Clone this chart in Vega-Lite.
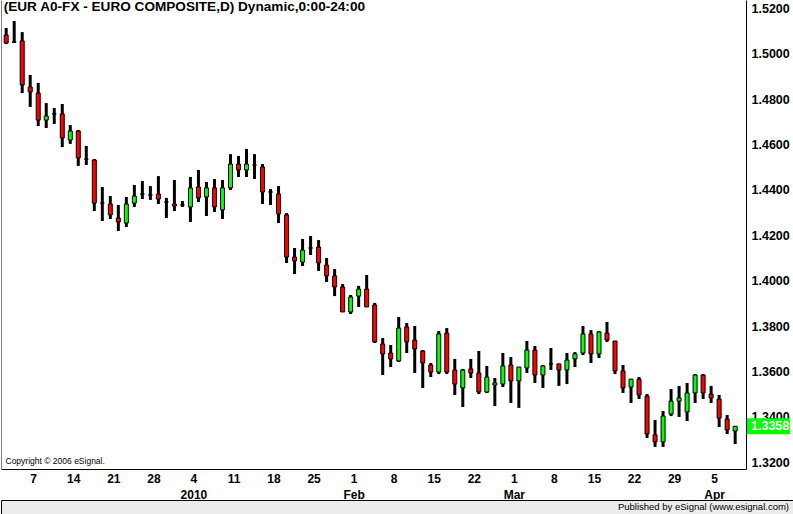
{
  "$schema": "https://vega.github.io/schema/vega-lite/v6.json",
  "padding": 0,
  "autosize": {"type": "pad"},
  "background": "white",
  "bounds": "flush",
  "spacing": 31,
  "config": {
    "font": "Liberation Sans",
    "view": {"stroke": null},
    "axis": {"grid": false, "domainColor": "#000000", "labelColor": "#000000", "ticks": false, "tickSize": 0}
  },
  "vconcat": [
    {
      "width": 745,
      "height": 469,
      "data": {
        "values": [
          {"date": "2009-12-02", "open": 1.5083, "high": 1.5114, "low": 1.5043, "close": 1.5048},
          {"date": "2009-12-03", "open": 1.5052, "high": 1.5145, "low": 1.5048, "close": 1.5052},
          {"date": "2009-12-04", "open": 1.5057, "high": 1.5096, "low": 1.4827, "close": 1.4863},
          {"date": "2009-12-07", "open": 1.4854, "high": 1.4907, "low": 1.4766, "close": 1.4832},
          {"date": "2009-12-08", "open": 1.4827, "high": 1.4872, "low": 1.4682, "close": 1.4708},
          {"date": "2009-12-09", "open": 1.4708, "high": 1.4783, "low": 1.4673, "close": 1.4726},
          {"date": "2009-12-10", "open": 1.4735, "high": 1.4761, "low": 1.4691, "close": 1.4735},
          {"date": "2009-12-11", "open": 1.4735, "high": 1.4779, "low": 1.4589, "close": 1.4629},
          {"date": "2009-12-14", "open": 1.4620, "high": 1.4686, "low": 1.4603, "close": 1.4660},
          {"date": "2009-12-15", "open": 1.4660, "high": 1.4664, "low": 1.4506, "close": 1.4541},
          {"date": "2009-12-16", "open": 1.4536, "high": 1.4594, "low": 1.4510, "close": 1.4536},
          {"date": "2009-12-17", "open": 1.4532, "high": 1.4536, "low": 1.4307, "close": 1.4342},
          {"date": "2009-12-18", "open": 1.4342, "high": 1.4413, "low": 1.4263, "close": 1.4342},
          {"date": "2009-12-21", "open": 1.4338, "high": 1.4373, "low": 1.4272, "close": 1.4290},
          {"date": "2009-12-22", "open": 1.4276, "high": 1.4334, "low": 1.4219, "close": 1.4259},
          {"date": "2009-12-23", "open": 1.4254, "high": 1.4369, "low": 1.4237, "close": 1.4338},
          {"date": "2009-12-24", "open": 1.4342, "high": 1.4422, "low": 1.4325, "close": 1.4373},
          {"date": "2009-12-25", "open": 1.4382, "high": 1.4439, "low": 1.4360, "close": 1.4382},
          {"date": "2009-12-28", "open": 1.4378, "high": 1.4417, "low": 1.4356, "close": 1.4378},
          {"date": "2009-12-29", "open": 1.4382, "high": 1.4461, "low": 1.4338, "close": 1.4360},
          {"date": "2009-12-30", "open": 1.4347, "high": 1.4365, "low": 1.4276, "close": 1.4347},
          {"date": "2009-12-31", "open": 1.4338, "high": 1.4444, "low": 1.4307, "close": 1.4329},
          {"date": "2010-01-01", "open": 1.4334, "high": 1.4351, "low": 1.4325, "close": 1.4334},
          {"date": "2010-01-04", "open": 1.4325, "high": 1.4457, "low": 1.4259, "close": 1.4409},
          {"date": "2010-01-05", "open": 1.4413, "high": 1.4488, "low": 1.4347, "close": 1.4365},
          {"date": "2010-01-06", "open": 1.4369, "high": 1.4435, "low": 1.4285, "close": 1.4409},
          {"date": "2010-01-07", "open": 1.4409, "high": 1.4448, "low": 1.4303, "close": 1.4325},
          {"date": "2010-01-08", "open": 1.4312, "high": 1.4444, "low": 1.4272, "close": 1.4409},
          {"date": "2010-01-11", "open": 1.4409, "high": 1.4558, "low": 1.4400, "close": 1.4514},
          {"date": "2010-01-12", "open": 1.4514, "high": 1.4550, "low": 1.4457, "close": 1.4488},
          {"date": "2010-01-13", "open": 1.4488, "high": 1.4581, "low": 1.4457, "close": 1.4514},
          {"date": "2010-01-14", "open": 1.4510, "high": 1.4558, "low": 1.4448, "close": 1.4510},
          {"date": "2010-01-15", "open": 1.4501, "high": 1.4514, "low": 1.4338, "close": 1.4391},
          {"date": "2010-01-18", "open": 1.4391, "high": 1.4404, "low": 1.4334, "close": 1.4391},
          {"date": "2010-01-19", "open": 1.4382, "high": 1.4417, "low": 1.4254, "close": 1.4294},
          {"date": "2010-01-20", "open": 1.4290, "high": 1.4298, "low": 1.4078, "close": 1.4104},
          {"date": "2010-01-21", "open": 1.4104, "high": 1.4144, "low": 1.4029, "close": 1.4087},
          {"date": "2010-01-22", "open": 1.4082, "high": 1.4184, "low": 1.4065, "close": 1.4135},
          {"date": "2010-01-25", "open": 1.4144, "high": 1.4197, "low": 1.4113, "close": 1.4144},
          {"date": "2010-01-26", "open": 1.4148, "high": 1.4179, "low": 1.4043, "close": 1.4078},
          {"date": "2010-01-27", "open": 1.4069, "high": 1.4100, "low": 1.3994, "close": 1.4021},
          {"date": "2010-01-28", "open": 1.4021, "high": 1.4051, "low": 1.3932, "close": 1.3972},
          {"date": "2010-01-29", "open": 1.3972, "high": 1.3985, "low": 1.3862, "close": 1.3862},
          {"date": "2010-02-01", "open": 1.3862, "high": 1.3937, "low": 1.3853, "close": 1.3928},
          {"date": "2010-02-02", "open": 1.3932, "high": 1.3977, "low": 1.3884, "close": 1.3963},
          {"date": "2010-02-03", "open": 1.3963, "high": 1.4025, "low": 1.3884, "close": 1.3884},
          {"date": "2010-02-04", "open": 1.3893, "high": 1.3902, "low": 1.3725, "close": 1.3730},
          {"date": "2010-02-05", "open": 1.3721, "high": 1.3747, "low": 1.3584, "close": 1.3677},
          {"date": "2010-02-08", "open": 1.3681, "high": 1.3716, "low": 1.3619, "close": 1.3655},
          {"date": "2010-02-09", "open": 1.3646, "high": 1.3840, "low": 1.3641, "close": 1.3791},
          {"date": "2010-02-10", "open": 1.3796, "high": 1.3813, "low": 1.3681, "close": 1.3730},
          {"date": "2010-02-11", "open": 1.3738, "high": 1.3800, "low": 1.3593, "close": 1.3699},
          {"date": "2010-02-12", "open": 1.3690, "high": 1.3694, "low": 1.3527, "close": 1.3637},
          {"date": "2010-02-15", "open": 1.3628, "high": 1.3637, "low": 1.3575, "close": 1.3597},
          {"date": "2010-02-16", "open": 1.3597, "high": 1.3778, "low": 1.3588, "close": 1.3765},
          {"date": "2010-02-17", "open": 1.3769, "high": 1.3791, "low": 1.3588, "close": 1.3597},
          {"date": "2010-02-18", "open": 1.3606, "high": 1.3655, "low": 1.3496, "close": 1.3544},
          {"date": "2010-02-19", "open": 1.3527, "high": 1.3611, "low": 1.3443, "close": 1.3606},
          {"date": "2010-02-22", "open": 1.3611, "high": 1.3655, "low": 1.3571, "close": 1.3593},
          {"date": "2010-02-23", "open": 1.3593, "high": 1.3690, "low": 1.3500, "close": 1.3509},
          {"date": "2010-02-24", "open": 1.3509, "high": 1.3624, "low": 1.3505, "close": 1.3575},
          {"date": "2010-02-25", "open": 1.3540, "high": 1.3571, "low": 1.3447, "close": 1.3549},
          {"date": "2010-02-26", "open": 1.3544, "high": 1.3681, "low": 1.3531, "close": 1.3624},
          {"date": "2010-03-01", "open": 1.3628, "high": 1.3663, "low": 1.3461, "close": 1.3558},
          {"date": "2010-03-02", "open": 1.3558, "high": 1.3619, "low": 1.3439, "close": 1.3619},
          {"date": "2010-03-03", "open": 1.3615, "high": 1.3734, "low": 1.3593, "close": 1.3694},
          {"date": "2010-03-04", "open": 1.3694, "high": 1.3712, "low": 1.3549, "close": 1.3584},
          {"date": "2010-03-05", "open": 1.3584, "high": 1.3628, "low": 1.3527, "close": 1.3624},
          {"date": "2010-03-08", "open": 1.3633, "high": 1.3703, "low": 1.3606, "close": 1.3633},
          {"date": "2010-03-09", "open": 1.3633, "high": 1.3633, "low": 1.3536, "close": 1.3606},
          {"date": "2010-03-10", "open": 1.3606, "high": 1.3681, "low": 1.3544, "close": 1.3650},
          {"date": "2010-03-11", "open": 1.3655, "high": 1.3685, "low": 1.3619, "close": 1.3677},
          {"date": "2010-03-12", "open": 1.3681, "high": 1.3800, "low": 1.3672, "close": 1.3765},
          {"date": "2010-03-15", "open": 1.3765, "high": 1.3782, "low": 1.3637, "close": 1.3677},
          {"date": "2010-03-16", "open": 1.3677, "high": 1.3778, "low": 1.3659, "close": 1.3774},
          {"date": "2010-03-17", "open": 1.3769, "high": 1.3818, "low": 1.3730, "close": 1.3738},
          {"date": "2010-03-18", "open": 1.3734, "high": 1.3734, "low": 1.3588, "close": 1.3602},
          {"date": "2010-03-19", "open": 1.3602, "high": 1.3628, "low": 1.3505, "close": 1.3527},
          {"date": "2010-03-22", "open": 1.3531, "high": 1.3566, "low": 1.3461, "close": 1.3566},
          {"date": "2010-03-23", "open": 1.3566, "high": 1.3575, "low": 1.3478, "close": 1.3496},
          {"date": "2010-03-24", "open": 1.3491, "high": 1.3500, "low": 1.3306, "close": 1.3324},
          {"date": "2010-03-25", "open": 1.3320, "high": 1.3386, "low": 1.3267, "close": 1.3289},
          {"date": "2010-03-26", "open": 1.3289, "high": 1.3425, "low": 1.3267, "close": 1.3403},
          {"date": "2010-03-29", "open": 1.3412, "high": 1.3522, "low": 1.3403, "close": 1.3469},
          {"date": "2010-03-30", "open": 1.3469, "high": 1.3536, "low": 1.3399, "close": 1.3483},
          {"date": "2010-03-31", "open": 1.3421, "high": 1.3549, "low": 1.3381, "close": 1.3505},
          {"date": "2010-04-01", "open": 1.3505, "high": 1.3588, "low": 1.3461, "close": 1.3584},
          {"date": "2010-04-02", "open": 1.3584, "high": 1.3588, "low": 1.3478, "close": 1.3505},
          {"date": "2010-04-05", "open": 1.3500, "high": 1.3536, "low": 1.3461, "close": 1.3483},
          {"date": "2010-04-06", "open": 1.3478, "high": 1.3496, "low": 1.3355, "close": 1.3394},
          {"date": "2010-04-07", "open": 1.3390, "high": 1.3408, "low": 1.3324, "close": 1.3342},
          {"date": "2010-04-08", "open": 1.3337, "high": 1.3359, "low": 1.3280, "close": 1.3358}
        ]
      },
      "encoding": {
        "x": {
          "field": "date",
          "type": "ordinal",
          "title": "Copyright © 2006 eSignal.",
          "scale": {"type": "point", "padding": 1.0625, "align": 0.32353, "round": false},
          "axis": {
            "orient": "bottom",
            "values": ["2009-12-07", "2009-12-14", "2009-12-21", "2009-12-28", "2010-01-04", "2010-01-11", "2010-01-18", "2010-01-25", "2010-02-01", "2010-02-08", "2010-02-15", "2010-02-22", "2010-03-01", "2010-03-08", "2010-03-15", "2010-03-22", "2010-03-29", "2010-04-05"],
            "labelExpr": "parseInt(substring(datum.value,8,10)) <= 7 && substring(datum.value,5,7) != '12' ? [toString(parseInt(substring(datum.value,8,10))), substring(datum.value,5,7) == '01' ? substring(datum.value,0,4) : (substring(datum.value,5,7) == '02' ? 'Feb' : (substring(datum.value,5,7) == '03' ? 'Mar' : 'Apr'))] : toString(parseInt(substring(datum.value,8,10)))",
            "labelAngle": 0,
            "labelAlign": "center",
            "labelBaseline": "top",
            "labelPadding": 4,
            "labelOffset": 3,
            "labelLineHeight": 16,
            "labelFontSize": 12,
            "labelFontWeight": "bold",
            "labelOverlap": false,
            "ticks": false,
            "tickSize": 0,
            "domain": true,
            "domainColor": "#000000",
            "titleX": 4,
            "titleY": -6,
            "titleAlign": "left",
            "titleBaseline": "alphabetic",
            "titleAnchor": "start",
            "titleFontSize": 8.5,
            "titleFontWeight": "normal",
            "titleColor": "#000000"
          }
        }
      },
      "layer": [
        {
          "mark": {"type": "rule", "color": "#000000", "strokeWidth": 3},
          "encoding": {
            "y": {
              "field": "low",
              "type": "quantitative",
              "scale": {"domain": [1.31696, 1.52375], "nice": false, "zero": false},
              "axis": {
                "orient": "right",
                "title": null,
                "values": [1.32, 1.34, 1.36, 1.38, 1.40, 1.42, 1.44, 1.46, 1.48, 1.50, 1.52],
                "format": ".4f",
                "labelFontSize": 12.5,
                "labelFontWeight": "bold",
                "labelPadding": 5,
                "labelAlign": "left",
                "labelBaseline": "middle",
                "ticks": false,
                "tickSize": 0,
                "domainColor": "#000000"
              }
            },
            "y2": {"field": "high"}
          }
        },
        {
          "mark": {"type": "bar", "size": 4, "stroke": "#000000", "strokeWidth": 1},
          "encoding": {
            "y": {
              "field": "open",
              "type": "quantitative",
              "axis": {"orient": "left", "title": null, "labels": false, "ticks": false, "tickSize": 0, "domainColor": "#808080"}
            },
            "y2": {"field": "close"},
            "fill": {"condition": {"test": "datum.close > datum.open", "value": "#00ff00"}, "value": "#ff0000"}
          }
        },
        {
          "data": {"values": [{"price": 1.3358, "label": "1.3358"}]},
          "mark": {"type": "point", "shape": "M0.02,-0.186L1.02,-0.186L1.02,0.186L0.02,0.186Z", "size": 7396, "filled": true, "color": "#00ff00", "opacity": 1, "strokeWidth": 0},
          "encoding": {
            "x": {"value": "width"},
            "y": {"field": "price", "type": "quantitative", "axis": null}
          }
        },
        {
          "data": {"values": [{"price": 1.3358, "label": "1.3358"}]},
          "mark": {"type": "text", "align": "left", "baseline": "middle", "dx": 5, "fontSize": 12.5, "fontWeight": "bold", "color": "#ffffff"},
          "encoding": {
            "x": {"value": "width"},
            "y": {"field": "price", "type": "quantitative", "axis": null},
            "text": {"field": "label"}
          }
        },
        {
          "data": {"values": [{"heading": "(EUR A0-FX - EURO COMPOSITE,D) Dynamic,0:00-24:00"}]},
          "mark": {"type": "text", "align": "left", "baseline": "alphabetic", "dx": -2.5, "fontSize": 13.6, "fontWeight": "bold", "color": "#000000"},
          "encoding": {
            "x": {"datum": "2009-12-02", "type": "ordinal"},
            "y": {"datum": 1.5187, "type": "quantitative", "axis": null},
            "text": {"field": "heading"}
          }
        }
      ],
      "resolve": {"axis": {"y": "independent"}}
    },
    {
      "width": 793,
      "height": 14,
      "view": {"fill": "#ececec", "stroke": "#000000"},
      "data": {"values": [{"t": "Published by eSignal (www.esignal.com)"}]},
      "mark": {"type": "text", "align": "right", "baseline": "middle", "dx": -5, "fontSize": 9.5, "color": "#000000"},
      "encoding": {
        "x": {"value": "width"},
        "text": {"field": "t"}
      }
    }
  ]
}
